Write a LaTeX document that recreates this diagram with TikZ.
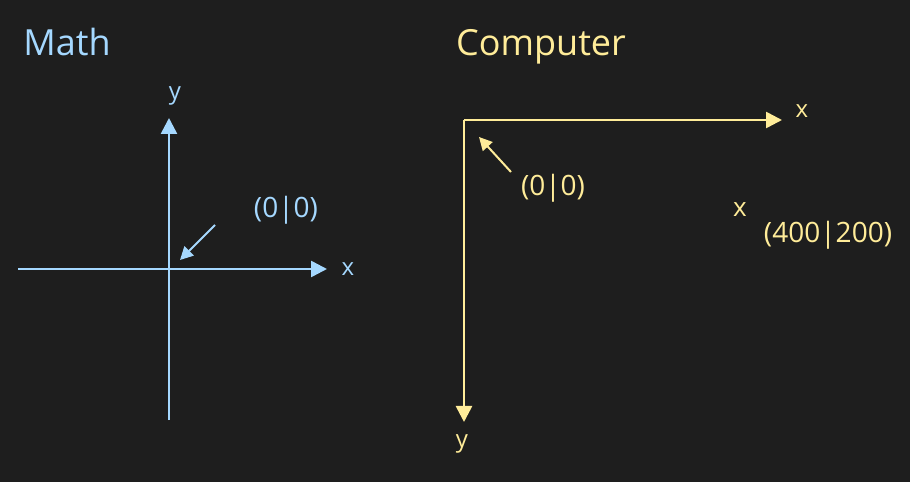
\documentclass[tikz,border=0pt]{standalone}
\usepackage{fontspec}
\setmainfont{Open Sans}
\usetikzlibrary{arrows.meta}
\definecolor{bg}{HTML}{1E1E1E}
\definecolor{mblue}{HTML}{A5D8FF}
\definecolor{cyell}{HTML}{FFEC99}
\begin{document}
\begin{tikzpicture}[x=1pt,y=1pt,
  axis/.style={line width=2.6pt, -{Triangle[length=16pt,width=16pt]}},
  pointer/.style={line width=2pt, -{Triangle[length=13pt,width=13pt]}},
  title/.style={font=\fontsize{36}{40}\selectfont},
  lab/.style={font=\fontsize{24}{26}\selectfont, inner sep=0pt},
  coord/.style={font=\fontsize{28}{30}\selectfont, inner sep=0pt}]
\fill[bg] (0,0) rectangle (910,482);
\useasboundingbox (0,0) rectangle (910,482);
% Math
\node[title, text=mblue] (mtitle) at (67,440) {Math};
\coordinate (bxl) at (18,213);
\coordinate (bxr) at (327,213);
\coordinate (byb) at (169,62);
\coordinate (byt) at (169,364);
\draw[axis, mblue] (bxl) -- (bxr);
\draw[axis, mblue] (byb) -- (byt);
\node[lab, text=mblue] (by) at (175,386) {y};
\node[lab, text=mblue] (bx) at (348,213) {x};
\node[coord, text=mblue] (borig) at (286,272) {(0|0)};
\coordinate (bps) at (215,257);
\coordinate (bpe) at (180,222);
\draw[pointer, mblue] (bps) -- (bpe);
% Computer
\node[title, text=cyell] (ctitle) at (541,435) {Computer};
\coordinate (corig) at (464,362);
\coordinate (cxr) at (782,362);
\coordinate (cyb) at (464,60);
\draw[axis, cyell] (corig) -- (cxr);
\draw[axis, cyell] (corig) -- (cyb);
\node[lab, text=cyell] (cx) at (802,371) {x};
\node[lab, text=cyell] (cy) at (462,38) {y};
\node[coord, text=cyell] (cpt) at (553,294) {(0|0)};
\coordinate (cps) at (511,310);
\coordinate (cpe) at (479,345);
\draw[pointer, cyell] (cps) -- (cpe);
\node[font=\fontsize{26}{28}\selectfont, inner sep=0pt, text=cyell] (cmark) at (740,272) {x};
\node[coord, text=cyell] (cfar) at (828,247) {(400|200)};
\end{tikzpicture}
\end{document}
